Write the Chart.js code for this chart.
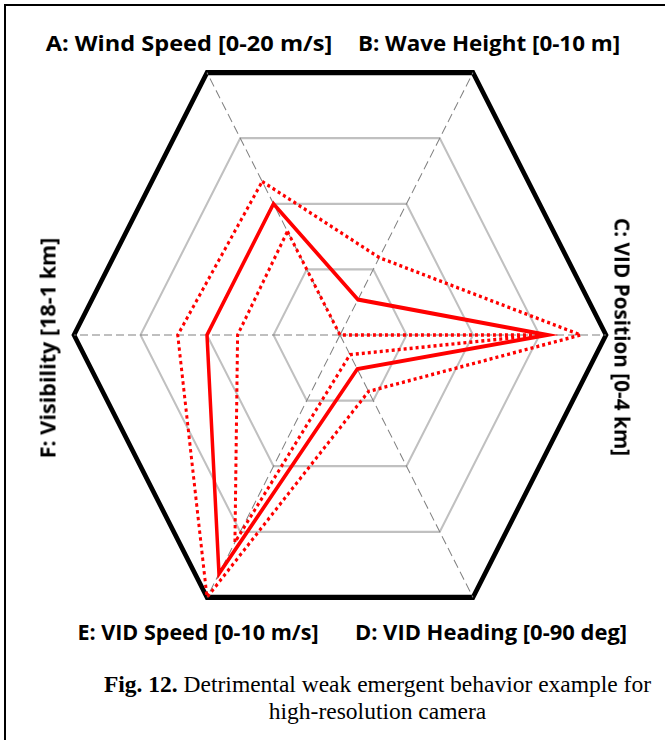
<!DOCTYPE html>
<html>
<head>
<meta charset="utf-8">
<script src="https://cdn.jsdelivr.net/npm/chart.js@4/dist/chart.umd.min.js"></script>
<style>
    body { margin: 0; background: #fff; }
    #fig { position: relative; width: 665px; height: 740px; overflow: hidden; background: #fff; }
    .frame { position: absolute; left: 4px; top: 4px; width: 800px; height: 900px;
             border-left: 2px solid #000; border-top: 2px solid #000; }
    #radarChart { position: absolute; left: 60px; top: 69px; }
    .axis-label { position: absolute; font-family: 'Open Sans', sans-serif; font-weight: bold;
                  font-size: 21px; white-space: nowrap; color: #000; line-height: 1; }
    .caption { position: absolute; width: 665px; text-align: center;
               font-family: 'Liberation Serif', 'Times New Roman', serif; font-size: 23.5px; color: #000; }
</style>
</head>
<body>
<div id="fig">
    <div class="frame"></div>
    <canvas id="radarChart" width="560" height="532"></canvas>
    <div class="caption" style="top: 671px; left: 45px;"><b>Fig. 12.</b> Detrimental weak emergent behavior example for</div>
    <div class="caption" style="top: 698px; left: 45px;">high-resolution camera</div>
</div>
<script>
// axes, in drawing order (clockwise starting at upper-left)
const AXIS_LABELS = [
    'A: Wind Speed [0-20 m/s]',
    'B: Wave Height [0-10 m]',
    'C: VID Position [0-4 km]',
    'D: VID Heading [0-90 deg]',
    'E: VID Speed [0-10 m/s]',
    'F: Visibility [18-1 km]'
];

// values as a fraction of each axis range
const NOMINAL = [0.50, 0.135, 0.78, 0.13, 0.91, 0.50];
const UPPER_BOUND = [0.585, 0.295, 0.905, 0.215, 1.0, 0.61];
const LOWER_BOUND = [0.395, 0.0, 0.75, 0.075, 0.79, 0.385];

const RING_STEP = 0.25;

// label placement (center point, rotation, width it should span)
const LABEL_LAYOUT = [
    { x: 189, y: 43, rot: 0, w: 286 },
    { x: 489, y: 43, rot: 0, w: 262 },
    { x: 622, y: 337, rot: 90, w: 238 },
    { x: 491, y: 632, rot: 0, w: 272 },
    { x: 198, y: 632, rot: 0, w: 241 },
    { x: 48, y: 348, rot: -90, w: 221 }
];

const STRETCH_Y = 1.139; // the original hexagon is taller than a regular one
const RED = '#ff0000';

const stretchPlugin = {
    id: 'stretchY',
    beforeDraw(chart) {
        const cy = chart.scales.r.yCenter;
        const ctx = chart.ctx;
        ctx.save();
        ctx.translate(0, cy);
        ctx.scale(1, STRETCH_Y);
        ctx.translate(0, -cy);
    },
    afterDraw(chart) {
        chart.ctx.restore();
    }
};

function addLabels() {
    const fig = document.getElementById('fig');
    AXIS_LABELS.forEach((text, i) => {
        const pos = LABEL_LAYOUT[i];
        const el = document.createElement('div');
        el.className = 'axis-label';
        el.textContent = text;
        el.style.left = pos.x + 'px';
        el.style.top = pos.y + 'px';
        fig.appendChild(el);
        const sx = pos.w / el.offsetWidth;
        el.style.transform = `translate(-50%, -50%) rotate(${pos.rot}deg) scaleX(${sx.toFixed(3)})`;
    });
}

function initRadar() {
    const ctx = document.getElementById('radarChart').getContext('2d');
    const dotted = { borderColor: RED, borderWidth: 3, borderDash: [3, 3], fill: false };

    new Chart(ctx, {
        type: 'radar',
        data: {
            labels: AXIS_LABELS,
            datasets: [
                { label: 'Nominal', data: NOMINAL, borderColor: RED, borderWidth: 3.5, fill: false },
                { label: 'Upper', data: UPPER_BOUND, ...dotted },
                { label: 'Lower', data: LOWER_BOUND, ...dotted }
            ]
        },
        options: {
            responsive: false,
            animation: false,
            plugins: {
                legend: { display: false },
                tooltip: { enabled: false }
            },
            elements: {
                line: { tension: 0, borderJoinStyle: 'miter' },
                point: { radius: 0, hoverRadius: 0 }
            },
            scales: {
                r: {
                    min: 0,
                    max: 1,
                    startAngle: -30,
                    ticks: { display: false, stepSize: RING_STEP },
                    pointLabels: { display: false },
                    grid: {
                        color: (c) => c.index === 4 ? '#000' : '#c0c0c0',
                        lineWidth: (c) => c.index === 4 ? 4.5 : 2
                    },
                    angleLines: { color: '#808080', lineWidth: 1, borderDash: [8, 4] }
                }
            }
        },
        plugins: [stretchPlugin]
    });
}

document.addEventListener('DOMContentLoaded', () => {
    addLabels();
    initRadar();
});
</script>
</body>
</html>
